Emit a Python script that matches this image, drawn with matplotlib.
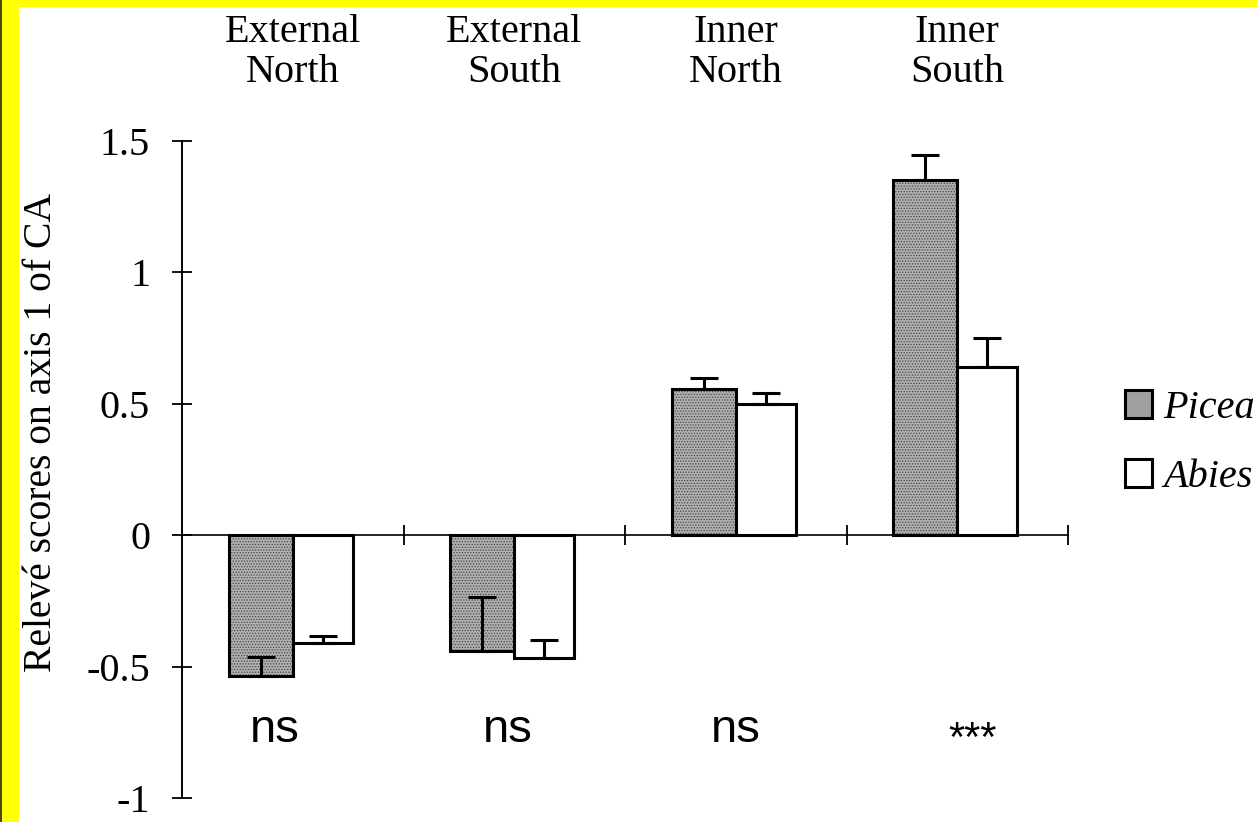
import numpy as np
import matplotlib
matplotlib.use("Agg")
import matplotlib.pyplot as plt
import matplotlib.transforms as mtransforms
from matplotlib.patches import Rectangle

# data
sites_top = ["External", "External", "Inner", "Inner"]
sites_bottom = ["North", "South", "North", "South"]
picea = [-0.535, -0.44, 0.555, 1.35]
picea_err = [0.07, 0.205, 0.042, 0.095]
abies = [-0.412, -0.468, 0.498, 0.639]
abies_err = [0.028, 0.068, 0.042, 0.11]
signif = ["ns", "ns", "ns", "***"]
y_ticks = [-1, -0.5, 0, 0.5, 1, 1.5]
y_ticklabels = ["-1", "-0.5", "0", "0.5", "1", "1.5"]

plt.rcParams["font.family"] = ["Liberation Serif", "DejaVu Serif"]
plt.rcParams["hatch.linewidth"] = 0.6

W, H = 1257, 822
fig = plt.figure(figsize=(W / 100, H / 100), dpi=100)
fig.patch.set_facecolor("#ffff00")
# white page with yellow band on the left and top
fig.add_artist(Rectangle((19 / W, 0), 1, (H - 7) / H, transform=fig.transFigure,
                         facecolor="white", edgecolor="none", zorder=-10))
fig.add_artist(Rectangle((0, 0), 2 / W, 1, transform=fig.transFigure,
                         facecolor="#4a4a12", edgecolor="none", zorder=-9))

ax = fig.add_axes([182 / W, 1 - 798 / H, (1068 - 182) / W, (798 - 141) / H])
ax.patch.set_alpha(0)

x = np.arange(len(picea))
lw = 2.2
# stippled grey fill, then the black outlines on top
ax.bar(x - 0.29, picea, 0.29, align="edge", color="#b0b0b0", hatch="......",
       edgecolor="#444444", linewidth=0, zorder=2)
ax.bar(x - 0.29, picea, 0.29, align="edge", color="none",
       edgecolor="black", linewidth=lw, zorder=2.5)
ax.bar(x, abies, 0.27, align="edge", color="white",
       edgecolor="black", linewidth=lw, zorder=2.5)

# one-sided (upward) error bars
ax.errorbar(x - 0.145, picea, yerr=[np.zeros(4), picea_err], fmt="none",
            ecolor="black", elinewidth=2.2, capsize=10, capthick=2.2, zorder=3)
ax.errorbar(x + 0.135, abies, yerr=[np.zeros(4), abies_err], fmt="none",
            ecolor="black", elinewidth=2.2, capsize=10, capthick=2.2, zorder=3)

ax.set_xlim(-0.5, 3.5)
ax.set_ylim(-1, 1.5)
ax.spines["top"].set_visible(False)
ax.spines["right"].set_visible(False)
ax.spines["bottom"].set_position(("data", 0))
ax.spines["left"].set_linewidth(1.4)
ax.spines["bottom"].set_linewidth(1.2)

ax.set_xticks(x + 0.5)
ax.set_xticklabels([])
ax.set_yticks(y_ticks)
ax.set_yticklabels(y_ticklabels)
ax.tick_params(axis="both", direction="inout", length=14, width=1.3)
ax.tick_params(axis="y", labelsize=29, pad=16)

# site names above the plot
trans = mtransforms.blended_transform_factory(ax.transData, fig.transFigure)
for i in range(len(sites_top)):
    ax.text(x[i], 1 - 42 / H, sites_top[i], transform=trans, ha="center",
            va="baseline", fontsize=29)
    ax.text(x[i], 1 - 82 / H, sites_bottom[i], transform=trans, ha="center",
            va="baseline", fontsize=29)

# significance labels
offs = [-0.08, -0.03, 0.0, 0.07]
for i, s in enumerate(signif):
    yy = -0.787 if s == "ns" else -0.82
    ax.text(x[i] + offs[i], yy, s, ha="center", va="baseline",
            fontsize=34 if s == "ns" else 30,
            family=["Liberation Sans", "DejaVu Sans"])

fig.text(42 / W, 1 - 433 / H, "Relevé scores on axis 1 of CA", rotation=90,
         ha="center", va="center", fontsize=28.5)

# legend proxies
ph = Rectangle((0, 0), 1, 1, facecolor="#a0a0a0", edgecolor="black", linewidth=lw)
ah = Rectangle((0, 0), 1, 1, facecolor="white", edgecolor="black", linewidth=lw)
ax.legend([ph, ah], ["Picea", "Abies"], loc="upper left",
          bbox_to_anchor=(1125 / W, 1 - 390 / H),
          bbox_transform=fig.transFigure, frameon=False,
          prop={"style": "italic", "size": 29}, handlelength=0.68,
          handleheight=0.68, handletextpad=0.28, labelspacing=0.8,
          borderpad=0, borderaxespad=0)

fig.savefig("out.png", dpi=100)
